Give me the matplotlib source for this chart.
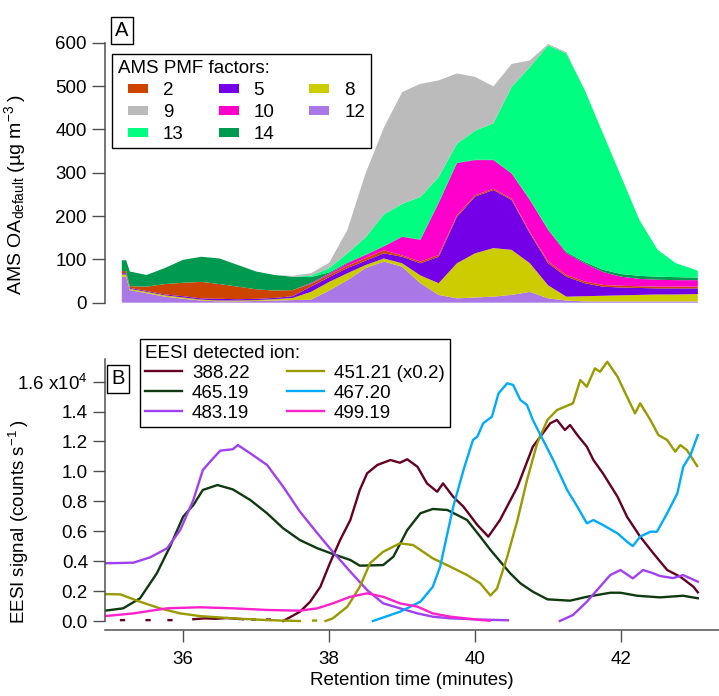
import numpy as np
import matplotlib
matplotlib.use("Agg")
import matplotlib.pyplot as plt
from matplotlib.patches import Patch, Rectangle
from matplotlib.lines import Line2D
from matplotlib.legend_handler import HandlerPatch
from matplotlib.ticker import FuncFormatter

plt.rcParams["font.family"] = ["Liberation Sans", "DejaVu Sans"]
plt.rcParams["mathtext.fontset"] = "custom"
plt.rcParams["mathtext.rm"] = "Liberation Sans"
plt.rcParams["mathtext.default"] = "regular"

nan = np.nan

# ---- panel A: AMS PMF factors (ug m-3), stacked bottom -> top
ams_time = [35.16, 35.22, 35.27, 35.5, 35.75, 36.0, 36.25, 36.5, 36.75, 37.0,
            37.25, 37.5, 37.75, 38.0, 38.25, 38.5, 38.75, 39.0, 39.25, 39.5,
            39.75, 40.0, 40.25, 40.5, 40.75, 41.0, 41.25, 41.5, 41.75, 42.0,
            42.25, 42.5, 42.75, 43.05]
f12 = [60, 60, 29, 22, 14, 9, 5, 3, 3, 4, 5, 6, 7, 28, 52, 80, 95, 83, 45, 18,
       10, 12, 14, 18, 25, 10, 5, 3, 3, 3, 3, 3, 3, 3]
f8 = [5, 5, 3, 3, 3, 3, 2, 2, 2, 2, 3, 5, 18, 20, 16, 7, 7, 8, 18, 27,
      81, 102, 112, 104, 66, 30, 9, 12, 13, 14, 15, 16, 16, 17]
f5 = [3, 3, 2, 2, 2, 3, 3, 4, 3, 3, 3, 4, 12, 11, 12, 10, 12, 15, 28, 61,
      107, 131, 134, 115, 69, 51, 46, 30, 21, 18, 16, 14, 14, 13]
f2 = [5, 5, 4, 10, 24, 31, 38, 34, 29, 22, 17, 14, 6, 5, 5, 6, 7, 3, 4, 4,
      4, 3, 3, 3, 3, 4, 4, 4, 4, 4, 4, 4, 4, 4]
f10 = [0, 0, 0, 0, 0, 0, 0, 0, 0, 0, 0, 0, 2, 3, 6, 7, 9, 43, 50, 120,
       120, 81, 66, 58, 74, 73, 50, 42, 30, 21, 17, 16, 15, 15]
f14 = [25, 25, 34, 27, 37, 53, 58, 59, 50, 41, 36, 31, 14, 3, 2, 1, 1, 1, 1, 1,
       1, 1, 1, 1, 1, 1, 3, 3, 5, 6, 7, 7, 7, 6]
f13 = [0, 0, 0, 0, 0, 0, 0, 0, 0, 0, 0, 0, 3, 10, 21, 40, 73, 75, 98, 59,
       44, 67, 84, 199, 306, 425, 458, 397, 315, 225, 129, 62, 32, 16]
f9 = [0, 0, 0, 0, 0, 0, 0, 0, 0, 0, 0, 2, 6, 12, 54, 148, 200, 258, 261, 223,
      162, 124, 85, 53, 15, 3, 3, 0, 0, 0, 0, 0, 0, 0]

factor_colors = {"2": "#CC4400", "9": "#BBBBBB", "13": "#00FF80",
                 "5": "#7300E6", "10": "#FF00CC", "14": "#009950",
                 "8": "#CCCC00", "12": "#AA77E6"}
stack_order = ["12", "8", "5", "2", "10", "14", "13", "9"]
legend_order_a = ["2", "9", "13", "5", "10", "14", "8", "12"]

# ---- panel B: EESI ions (counts s-1)
t_388 = [34.95, 35.15, 35.19, 35.25, 35.50, 35.54, 35.6, 35.80, 35.84, 35.9,
         36.14, 36.3, 36.45, 36.6, 36.82, 36.88, 36.95, 36.98, 37.05, 37.15,
         37.19, 37.25, 37.37, 37.60, 37.74, 37.88, 38.01, 38.15, 38.29, 38.42,
         38.52, 38.66, 38.84, 38.97, 39.07, 39.21, 39.34, 39.48, 39.56, 39.70,
         39.84, 40.03, 40.18, 40.34, 40.58, 40.79, 41.03, 41.12, 41.23, 41.30,
         41.40, 41.53, 41.62, 41.75, 41.95, 42.08, 42.26, 42.44, 42.63, 42.81,
         42.99, 43.05]
ion_388 = [nan, 60, 60, nan, 60, 60, nan, 60, 60, nan,
           120, 180, 150, 200, 120, nan, 100, 100, nan, 100,
           100, nan, 0, 620, 1290, 2290, 3860, 5410, 6750, 8760,
           9870, 10430, 10760, 10580, 10810, 10310, 9200, 8640, 9200, 8300,
           7640, 6420, 5640, 6750, 8980, 11650, 13220, 13440, 12770, 13100,
           12430, 11650, 10760, 9870, 8310, 6970, 5640, 4530, 3410, 2960,
           2290, 1920]

t_451 = [34.93, 35.14, 35.41, 35.68, 35.96, 36.23, 36.68, 37.15, 37.45, 37.6,
         37.7, 37.78, 37.82, 37.9, 37.95, 38.05, 38.25, 38.42, 38.56, 38.74,
         38.97, 39.15, 39.42, 39.66, 39.89, 40.07, 40.21, 40.30, 40.44, 40.58,
         40.71, 40.85, 40.99, 41.12, 41.34, 41.44, 41.53, 41.64, 41.71, 41.81,
         41.95, 42.08, 42.19, 42.26, 42.40, 42.51, 42.63, 42.74, 42.81, 42.90,
         43.04]
ion_451_x02 = [1800, 1780, 1290, 850, 510, 330, 180, 60, 20, 0,
               nan, 30, 30, nan, 0, 180, 960, 2290, 3860, 4630,
               5190, 5080, 4190, 3630, 3070, 2520, 1700, 2180, 4300, 6750,
               9420, 11880, 13440, 14100, 14550, 16110, 15660, 16890, 16660, 17330,
               16330, 14990, 13880, 14550, 13440, 12430, 12100, 11320, 11760, 11430,
               10360]

t_465 = [34.93, 35.18, 35.41, 35.64, 35.82, 36.0, 36.14, 36.27, 36.47, 36.68,
         36.92, 37.15, 37.37, 37.60, 37.84, 38.05, 38.29, 38.42, 38.74, 38.88,
         39.07, 39.25, 39.42, 39.62, 39.89, 40.07, 40.21, 40.48, 40.62, 40.79,
         40.99, 41.30, 41.53, 41.85, 41.99, 42.22, 42.53, 42.85, 43.05]
ion_465 = [690, 850, 1520, 3190, 4970, 6970, 7750, 8760, 9090, 8800,
           8090, 7200, 6200, 5410, 4860, 4480, 4080, 3700, 3740, 4300,
           6080, 7200, 7490, 7420, 6750, 5640, 4750, 3190, 2520, 1960,
           1450, 1360, 1620, 1890, 1890, 1690, 1580, 1690, 1520]

t_467 = [38.60, 38.97, 39.25, 39.42, 39.52, 39.62, 39.70, 39.84, 39.97, 40.03,
         40.11, 40.23, 40.32, 40.44, 40.52, 40.62, 40.71, 40.79, 40.93, 41.07,
         41.26, 41.40, 41.53, 41.62, 41.75, 41.95, 42.08, 42.16, 42.26, 42.40,
         42.49, 42.63, 42.77, 42.85, 42.95, 43.05]
ion_467 = [0, 620, 1290, 2290, 3630, 5860, 7640, 10090, 12100, 12320,
           13220, 13660, 15220, 15890, 15780, 14770, 14440, 13440, 12100, 10760,
           8760, 7640, 6530, 6750, 6420, 5860, 5300, 5010, 5640, 5970,
           5970, 7200, 8540, 10310, 11100, 12430]

t_483 = [34.93, 35.32, 35.55, 35.78, 35.96, 36.14, 36.27, 36.41, 36.51, 36.68,
         36.75, 36.92, 37.15, 37.37, 37.60, 37.84, 38.05, 38.29, 38.52, 38.74,
         38.97, 39.21, 39.42, 39.66, 40.07, 40.45, 40.8, 41.16, 41.34, 41.53,
         41.71, 41.85, 41.99, 42.16, 42.30, 42.44, 42.53, 42.71, 42.85, 43.05]
ion_483 = [3860, 3900, 4260, 4860, 6080, 8090, 10090, 10870, 11390, 11480,
           11760, 11210, 10430, 8980, 7310, 5860, 4630, 3300, 2070, 1180,
           850, 510, 290, 180, 100, 50, nan, 0, 400, 1290,
           2290, 3070, 3410, 2850, 3410, 3190, 3010, 2870, 3070, 2630]

t_499 = [34.93, 35.32, 35.78, 36.23, 36.68, 37.15, 37.60, 37.84, 38.05, 38.29,
         38.52, 38.74, 38.97, 39.21, 39.42, 39.66, 40.07, 40.2]
ion_499 = [330, 510, 850, 920, 850, 740, 690, 850, 1180, 1620,
           1850, 1620, 1180, 960, 510, 290, 70, 20]

ion_series = [
    ("388.22", t_388, ion_388, "#660022"),
    ("465.19", t_465, ion_465, "#0F3A0F"),
    ("483.19", t_483, ion_483, "#A040F0"),
    ("451.21 (x0.2)", t_451, ion_451_x02, "#999900"),
    ("467.20", t_467, ion_467, "#00AAFF"),
    ("499.19", t_499, ion_499, "#FF22CC"),
]

W, H = 719, 696
FS = 13.5
fig = plt.figure(figsize=(W / 100, H / 100), dpi=100)
spine_col = "#505050"
xlim = (34.93, 43.34)


def legend_rect(legend, orig_handle, xdescent, ydescent, width, height, fontsize):
    # small colour swatch sitting at the right end of the handle slot
    w, h = 14.4, 6.5
    return Rectangle((width - xdescent - w, -ydescent + (height - h) / 2), w, h)


# ---------------- panel A
axA = fig.add_axes([105 / W, 1 - 302.7 / H, 614 / W, (302.7 - 40.5) / H])
axA.stackplot(ams_time,
              [f12, f8, f5, f2, f10, f14, f13, f9],
              colors=[factor_colors[k] for k in stack_order], linewidth=0)
axA.set_xlim(*xlim)
axA.set_ylim(0, 605)
for s in ["top", "right", "bottom"]:
    axA.spines[s].set_visible(False)
axA.spines["left"].set_bounds(0, 600)
axA.spines["left"].set_color(spine_col)
axA.spines["left"].set_linewidth(1.1)
axA.set_yticks([0, 100, 200, 300, 400, 500, 600])
axA.tick_params(axis="y", direction="out", length=9.5, width=1.0, color=spine_col,
                labelsize=FS, pad=3.5)
axA.tick_params(axis="x", bottom=False, labelbottom=False)
axA.set_ylabel("AMS OA$_{default}$ (µg m$^{-3}$\u2009)", fontsize=14)
axA.yaxis.set_label_coords(-0.125, 0.41)

handles_a = [Patch(facecolor=factor_colors[k], edgecolor="none", label=k)
             for k in legend_order_a]
legA = fig.legend(handles=handles_a, title="AMS PMF factors:", ncol=3,
                  loc="upper left", bbox_to_anchor=(112 / W, 1 - 54 / H),
                  borderaxespad=0, fontsize=FS, title_fontsize=FS,
                  frameon=True, fancybox=False, edgecolor="black",
                  framealpha=1, handlelength=1.62, handleheight=0.7,
                  handletextpad=0.8, columnspacing=1.3, labelspacing=0.26,
                  borderpad=0.3, alignment="left",
                  handler_map={Patch: HandlerPatch(patch_func=legend_rect)})
legA.get_frame().set_linewidth(1.0)

fig.text(122 / W, 1 - 30.5 / H, "A", fontsize=14.5, ha="center", va="center",
         bbox=dict(boxstyle="square,pad=0.22", facecolor="white",
                   edgecolor="black", linewidth=1.0))

# ---------------- panel B
axB = fig.add_axes([105 / W, 1 - 630 / H, 614 / W, (630 - 359.2) / H])
for name, tt, vv, col in ion_series:
    axB.plot(tt, vv, color=col, lw=1.7, label=name)
axB.set_xlim(*xlim)
axB.set_ylim(-600, 17500)
for s in ["top", "right"]:
    axB.spines[s].set_visible(False)
axB.spines["left"].set_bounds(0, 17500)
for s in ["left", "bottom"]:
    axB.spines[s].set_color(spine_col)
    axB.spines[s].set_linewidth(1.1)
axB.set_yticks(np.arange(0, 16001, 2000))
axB.yaxis.set_major_formatter(FuncFormatter(
    lambda v, p: "1.6 x10$^{4}$" if abs(v - 16000) < 1 else f"{v / 1e4:.1f}"))
axB.set_xticks([36, 38, 40, 42])
axB.tick_params(direction="out", length=8.8, width=1.0, color=spine_col,
                labelsize=FS)
axB.tick_params(axis="y", pad=3.5)
axB.tick_params(axis="x", pad=6.0)
axB.set_ylabel("EESI signal (counts s$^{-1}$\u2009)", fontsize=13.5)
axB.yaxis.set_label_coords(-0.121, 0.40)
axB.set_xlabel("Retention time (minutes)", fontsize=13.5, labelpad=3)

handles_b = [Line2D([0], [0], color=c, lw=1.7, label=n)
             for n, _, _, c in ion_series]
legB = fig.legend(handles=handles_b, title="EESI detected ion:", ncol=2,
                  loc="upper left", bbox_to_anchor=(139.5 / W, 1 - 339 / H),
                  borderaxespad=0, fontsize=FS, title_fontsize=FS,
                  frameon=True, fancybox=False, edgecolor="black",
                  framealpha=1, handlelength=1.97, handletextpad=0.53,
                  columnspacing=2.0, labelspacing=0.155, borderpad=0.3,
                  alignment="left")
legB.get_frame().set_linewidth(1.0)

fig.text(118.3 / W, 1 - 378.8 / H, "B", fontsize=14.5, ha="center", va="center",
         bbox=dict(boxstyle="square,pad=0.22", facecolor="white",
                   edgecolor="black", linewidth=1.0))

fig.savefig("out.png", dpi=100)
